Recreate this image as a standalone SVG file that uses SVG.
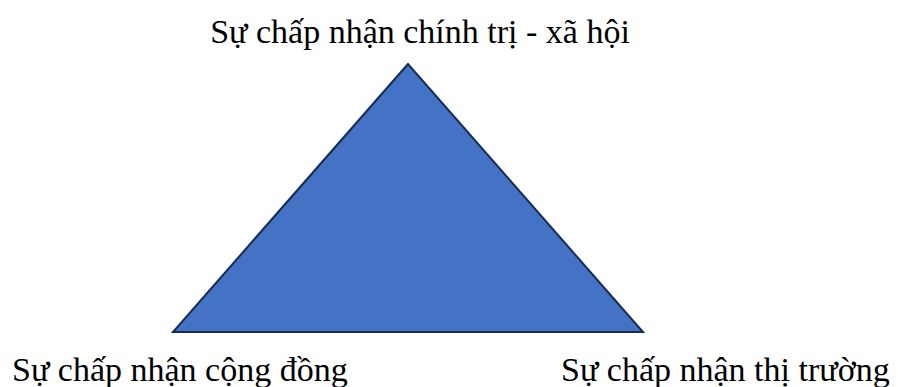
<svg xmlns="http://www.w3.org/2000/svg" width="898" height="387" viewBox="0 0 898 387">
<style>
text{font-family:"Liberation Serif","Times New Roman",serif;font-size:34px;fill:#000}
</style>
<rect width="898" height="387" fill="#fff"/>
<g id="triangle"><polygon points="408,64 173,332 643,332" fill="#4472C4" stroke="#172c51" stroke-width="2"/></g>
<g id="connectors"></g>
<g id="top"><text x="420" y="43" text-anchor="middle">Sự chấp nhận chính trị - xã hội</text></g>
<g id="left"><text x="12" y="381">Sự chấp nhận cộng đồng</text></g>
<g id="right"><text x="561" y="381">Sự chấp nhận thị trường</text></g>
</svg>
